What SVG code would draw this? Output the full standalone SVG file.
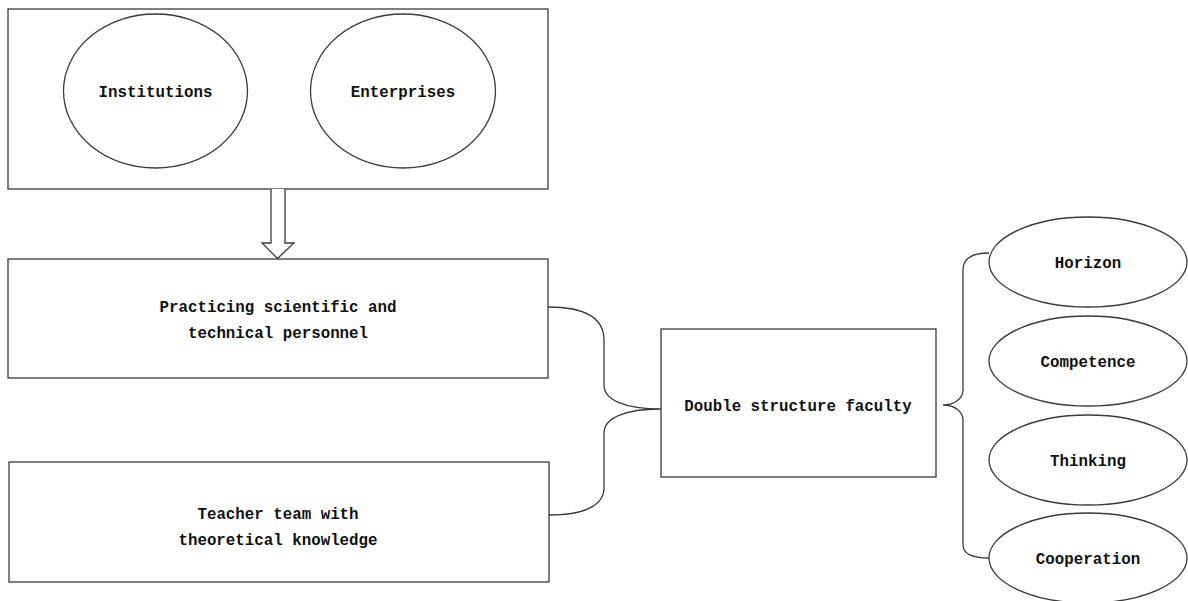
<svg xmlns="http://www.w3.org/2000/svg" width="1188" height="601" viewBox="0 0 1188 601">
<style>
.s{fill:#fff;stroke:#3a3a3a;stroke-width:1.3}
.c{fill:none;stroke:#3a3a3a;stroke-width:1.3}
.t{font-family:"Liberation Mono",monospace;font-size:15.8px;font-weight:bold;fill:#111;text-anchor:middle}
</style>
<rect width="1188" height="601" fill="#fff"/>
<g id="top-box">
<rect class="s" x="8" y="9" width="540" height="180"/>
</g>
<g id="institutions">
<ellipse class="s" cx="155.5" cy="91" rx="92" ry="77"/>
<text class="t" x="155.5" y="97">Institutions</text>
</g>
<g id="enterprises">
<ellipse class="s" cx="403" cy="91" rx="92.5" ry="77"/>
<text class="t" x="403" y="97">Enterprises</text>
</g>
<g id="practicing">
<rect class="s" x="8" y="259" width="540" height="119"/>
<text class="t" x="278" y="312">Practicing scientific and</text>
<text class="t" x="278" y="338">technical personnel</text>
</g>
<g id="teacher">
<rect class="s" x="9" y="462" width="540" height="120"/>
<text class="t" x="278" y="519">Teacher team with</text>
<text class="t" x="278" y="545">theoretical knowledge</text>
</g>
<g id="double">
<rect class="s" x="661" y="329" width="275" height="148"/>
<text class="t" x="798" y="411">Double structure faculty</text>
</g>
<g id="horizon">
<ellipse class="s" cx="1088" cy="262" rx="99" ry="45"/>
<text class="t" x="1088" y="268">Horizon</text>
</g>
<g id="competence">
<ellipse class="s" cx="1088" cy="361" rx="99" ry="45"/>
<text class="t" x="1088" y="367">Competence</text>
</g>
<g id="thinking">
<ellipse class="s" cx="1088" cy="460" rx="99" ry="45"/>
<text class="t" x="1088" y="466">Thinking</text>
</g>
<g id="cooperation">
<ellipse class="s" cx="1088" cy="558" rx="99" ry="45"/>
<text class="t" x="1088" y="564">Cooperation</text>
</g>
<g id="connectors">
<path class="s" d="M271,189 V243 H262 L277.5,258.5 L294,243 H285 V189"/>
<path class="c" d="M548,307 C585,307 604,318 604,340 V385 C604,400 625,409 661,409 C625,409 604,418 604,433 V488 C604,505 585,515 549,515"/>
<path class="c" d="M989,253 C972,253 963,258 963,270 V390 C963,398 955,405 943,405 C955,405 963,412 963,420 V545 C963,554 972,558 989,558"/>
</g>
</svg>
